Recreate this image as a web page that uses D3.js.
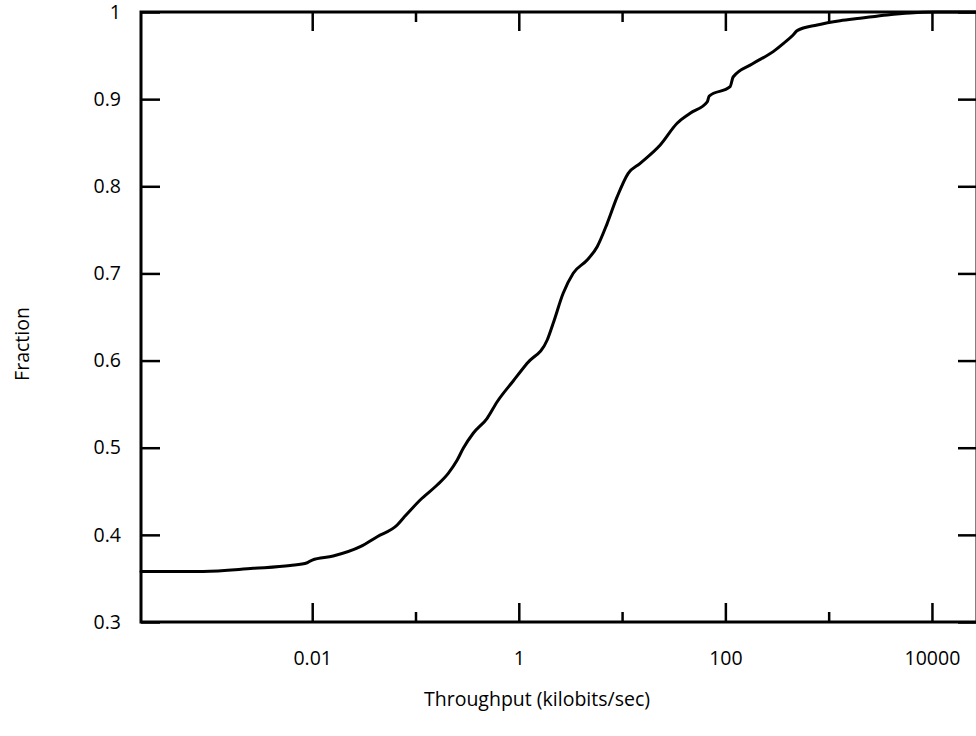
<!DOCTYPE html>
<html>
<head>
<meta charset="utf-8">
<script src="https://cdn.jsdelivr.net/npm/d3@7"></script>
<style>
  html, body { margin: 0; padding: 0; background: #fff; }
  svg { display: block; }
  text { font-family: "Open Sans", "Noto Sans", sans-serif; fill: #000; }
</style>
</head>
<body>
<svg id="chart" width="976" height="736"></svg>
<script>
// ---- data ----
const throughput = [0.00022, 0.00088, 0.00269, 0.00612, 0.00895, 0.0100, 0.01596, 0.0292, 0.0426, 0.0665,
  0.076, 0.111, 0.162, 0.2075, 0.2535, 0.29, 0.362, 0.494, 0.618, 0.883,
  1.205, 1.884, 2.153, 2.69, 3.365, 4.59, 5.74, 7.18, 8.97, 11.46,
  14.96, 23.4, 34.1, 45.6, 66.7, 69.7, 111.2, 118.9, 181.6, 290.4,
  370.7, 452.9, 495.5, 774.5, 1291, 2018, 3681, 6152, 10740, 27300];
const fraction = [0.358, 0.358, 0.3616, 0.3648, 0.368, 0.3711, 0.3757, 0.3864, 0.3979, 0.4113,
  0.419, 0.44, 0.4572, 0.4706, 0.4859, 0.4993, 0.5166, 0.5338, 0.5528, 0.5766,
  0.5969, 0.6236, 0.6428, 0.6772, 0.7002, 0.7154, 0.7307, 0.7575, 0.7881, 0.8149,
  0.8264, 0.8474, 0.8723, 0.8838, 0.8968, 0.9036, 0.9143, 0.9254, 0.9403, 0.9545,
  0.9645, 0.9736, 0.9786, 0.9851, 0.99, 0.9928, 0.9966, 0.9989, 1.0, 1.0];
const xDomain = [0.00022, 27300];
const yDomain = [0.3, 1.0];
const xMajorTicks = [0.01, 1, 100, 10000];
const xMajorLabels = ["0.01", "1", "100", "10000"];
const xMinorTicks = [0.1, 10, 1000];
const yTicks = [0.3, 0.4, 0.5, 0.6, 0.7, 0.8, 0.9, 1.0];
const yTickLabels = ["0.3", "0.4", "0.5", "0.6", "0.7", "0.8", "0.9", "1"];
const xTitle = "Throughput (kilobits/sec)";
const yTitle = "Fraction";

// ---- layout ----
const mLeft = 141, mRight = 977, mTop = 12, mBottom = 622;
const fontSize = 19.5;
const svg = d3.select("#chart");
const x = d3.scaleLog().domain(xDomain).range([mLeft, mRight]);
const y = d3.scaleLinear().domain(yDomain).range([mBottom, mTop]);

const majorLen = 19, minorLen = 10;

function styleAxis(g) {
  g.select(".domain").remove();
  g.selectAll(".tick line").attr("stroke", "#000").attr("stroke-width", 2.5);
}

// bottom axis (ticks inward)
const gB = svg.append("g").attr("transform", `translate(0,${mBottom})`)
  .call(d3.axisBottom(x).tickValues(xMajorTicks).tickSize(-majorLen)
    .tickFormat((d, i) => xMajorLabels[i]).tickPadding(0));
styleAxis(gB);
gB.selectAll(".tick text").attr("y", 43).attr("dy", null)
  .attr("font-size", fontSize).attr("font-family", "Open Sans");
const gBm = svg.append("g").attr("transform", `translate(0,${mBottom})`)
  .call(d3.axisBottom(x).tickValues(xMinorTicks).tickSize(-minorLen).tickFormat(""));
styleAxis(gBm);

// top axis
const gT = svg.append("g").attr("transform", `translate(0,${mTop})`)
  .call(d3.axisTop(x).tickValues(xMajorTicks).tickSize(-majorLen).tickFormat(""));
styleAxis(gT);
const gTm = svg.append("g").attr("transform", `translate(0,${mTop})`)
  .call(d3.axisTop(x).tickValues(xMinorTicks).tickSize(-minorLen).tickFormat(""));
styleAxis(gTm);

// left axis
const gL = svg.append("g").attr("transform", `translate(${mLeft},0)`)
  .call(d3.axisLeft(y).tickValues(yTicks).tickSize(-majorLen)
    .tickFormat((d, i) => yTickLabels[i]));
styleAxis(gL);
gL.selectAll(".tick text").attr("x", -20).attr("font-size", fontSize).attr("font-family", "Open Sans");

// right axis
const gR = svg.append("g").attr("transform", `translate(${mRight},0)`)
  .call(d3.axisRight(y).tickValues(yTicks).tickSize(-majorLen).tickFormat(""));
styleAxis(gR);

// frame
svg.append("rect").attr("x", mLeft).attr("y", mTop)
  .attr("width", mRight - mLeft).attr("height", mBottom - mTop)
  .attr("fill", "none").attr("stroke", "#000").attr("stroke-width", 3);

// curve
const pts = throughput.map((v, i) => [v, fraction[i]]);
const line = d3.line().x(d => x(d[0])).y(d => y(d[1])).curve(d3.curveMonotoneX);
svg.append("path").datum(pts).attr("d", line)
  .attr("fill", "none").attr("stroke", "#000").attr("stroke-width", 3)
  .attr("stroke-linejoin", "round").attr("stroke-linecap", "round");

// titles
svg.append("text").attr("x", 537).attr("y", 706).attr("text-anchor", "middle")
  .attr("font-size", fontSize).text(xTitle);
svg.append("text").attr("transform", "translate(29,344) rotate(-90)")
  .attr("text-anchor", "middle").attr("font-size", fontSize).text(yTitle);
</script>
</body>
</html>
